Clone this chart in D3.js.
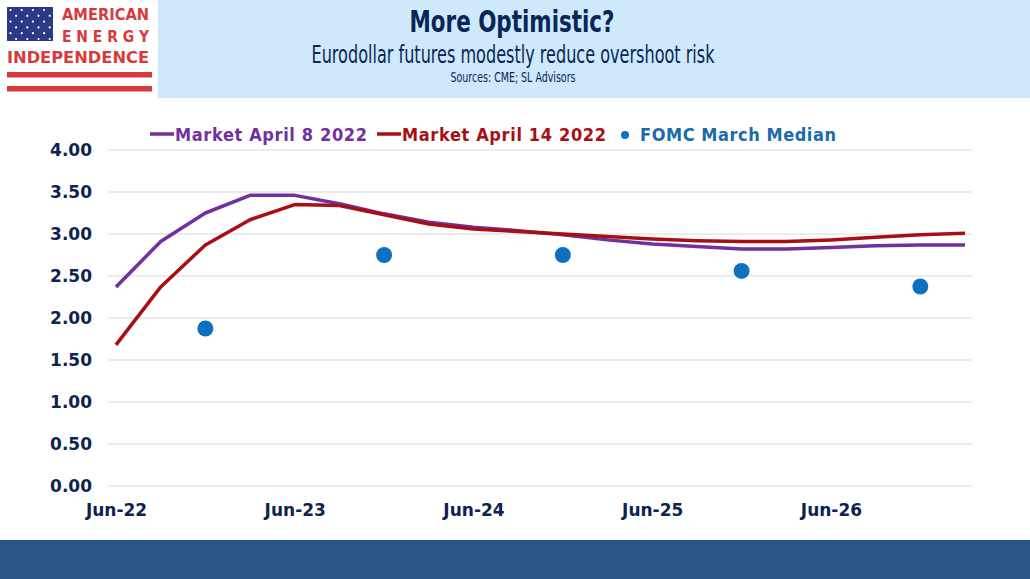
<!DOCTYPE html>
<html>
<head>
  <meta charset="utf-8"/>
  <style>
    body { margin: 0; background: #ffffff; }
    svg { display: block; }
  </style>
</head>
<body>
  <div id="chart"></div>
  <script src="https://d3js.org/d3.v7.min.js"></script>
  <script>
    // quarterly categories, Jun-22 .. Mar-27
    let quarters = ['Jun-22', 'Sep-22', 'Dec-22', 'Mar-23', 'Jun-23', 'Sep-23', 'Dec-23', 'Mar-24',
                    'Jun-24', 'Sep-24', 'Dec-24', 'Mar-25', 'Jun-25', 'Sep-25', 'Dec-25', 'Mar-26',
                    'Jun-26', 'Sep-26', 'Dec-26', 'Mar-27'];
    let tickLabels = ['Jun-22', 'Jun-23', 'Jun-24', 'Jun-25', 'Jun-26'];
    let yTicks = [0, 0.5, 1, 1.5, 2, 2.5, 3, 3.5, 4];

    let marketApr8 = [2.37, 2.91, 3.25, 3.46, 3.46, 3.36, 3.24, 3.14, 3.08, 3.04,
                      2.99, 2.93, 2.88, 2.85, 2.82, 2.82, 2.84, 2.86, 2.87, 2.87];
    let marketApr14 = [1.68, 2.37, 2.87, 3.17, 3.35, 3.34, 3.23, 3.12, 3.06, 3.03,
                       3.00, 2.97, 2.94, 2.92, 2.91, 2.91, 2.93, 2.96, 2.99, 3.01];
    let fomcQuarters = ['Dec-22', 'Dec-23', 'Dec-24', 'Dec-25', 'Dec-26'];
    let fomcMedian = [1.875, 2.75, 2.75, 2.56, 2.375];

    let width = 1030, height = 579;
    let navy = '#0e2350';

    let svg = d3.select('#chart')
        .append('svg')
        .attr('width', width)
        .attr('height', height);

    // header band
    svg.append('rect')
        .attr('x', 158).attr('y', 0)
        .attr('width', width - 158).attr('height', 98)
        .attr('fill', '#cde9fb');

    svg.append('text')
        .attr('x', 512).attr('y', 32)
        .attr('text-anchor', 'middle')
        .attr('font-family', 'DejaVu Sans Condensed, DejaVu Sans')
        .attr('font-weight', 'bold')
        .attr('font-size', 30)
        .attr('textLength', 205)
        .attr('lengthAdjust', 'spacingAndGlyphs')
        .attr('fill', '#0b2558')
        .text('More Optimistic?');

    svg.append('text')
        .attr('x', 513).attr('y', 63)
        .attr('text-anchor', 'middle')
        .attr('font-family', 'DejaVu Sans Condensed, DejaVu Sans')
        .attr('font-size', 25)
        .attr('textLength', 403)
        .attr('lengthAdjust', 'spacingAndGlyphs')
        .attr('fill', '#0b2558')
        .text('Eurodollar futures modestly reduce overshoot risk');

    svg.append('text')
        .attr('x', 513).attr('y', 82)
        .attr('text-anchor', 'middle')
        .attr('font-family', 'DejaVu Sans Condensed, DejaVu Sans')
        .attr('font-size', 13.5)
        .attr('textLength', 125)
        .attr('lengthAdjust', 'spacingAndGlyphs')
        .attr('fill', '#0b2558')
        .text('Sources: CME; SL Advisors');

    // logo
    let logo = svg.append('g');
    let logoRed = '#d63a3c';
    logo.append('rect')
        .attr('x', 7).attr('y', 7).attr('width', 46).attr('height', 34)
        .attr('fill', '#2b3a84');
    let starX = d3.range(8).map(function (i) { return 10.5 + i * 5.6; });
    let starY = d3.range(6).map(function (j) { return 10 + j * 5.8; });
    starY.forEach(function (sy, j) {
      starX.forEach(function (sx, i) {
        if ((i + j) % 2 === 0) {
          logo.append('circle').attr('cx', sx).attr('cy', sy).attr('r', 1.1).attr('fill', '#ffffff');
        }
      });
    });
    let logoText = function (label, xPos, yPos, len) {
      logo.append('text')
          .attr('x', xPos).attr('y', yPos)
          .attr('font-family', 'DejaVu Sans')
          .attr('font-weight', 'bold')
          .attr('font-size', 16)
          .attr('textLength', len)
          .attr('lengthAdjust', 'spacingAndGlyphs')
          .attr('fill', logoRed)
          .text(label);
    };
    logoText('AMERICAN', 62, 20, 87);
    logoText('E N E R G Y', 62, 42, 87);
    logoText('INDEPENDENCE', 7, 63, 142);
    logo.append('rect').attr('x', 7).attr('y', 72).attr('width', 145).attr('height', 5.5).attr('fill', logoRed);
    logo.append('rect').attr('x', 7).attr('y', 86).attr('width', 145).attr('height', 5.5).attr('fill', logoRed);

    // footer band
    svg.append('rect')
        .attr('x', 0).attr('y', 540)
        .attr('width', width).attr('height', height - 540)
        .attr('fill', '#2a5783');

    // scales
    let x = d3.scalePoint()
        .domain(quarters)
        .range([116, 965]);

    let y = d3.scaleLinear()
        .domain([0, 4])
        .range([486, 150]);

    // gridlines
    svg.append('g')
        .selectAll('line')
        .data(yTicks)
        .join('line')
        .attr('x1', 108).attr('x2', 972)
        .attr('y1', function (d) { return y(d); })
        .attr('y2', function (d) { return y(d); })
        .attr('stroke', '#d9d9d9')
        .attr('stroke-width', 1);

    // y axis
    let yAxis = svg.append('g')
        .attr('transform', 'translate(92,0)')
        .call(d3.axisLeft(y).tickValues(yTicks).tickFormat(d3.format('.2f')).tickSize(0).tickPadding(0));
    yAxis.select('.domain').remove();
    yAxis.selectAll('text')
        .attr('font-family', 'DejaVu Sans')
        .attr('font-weight', 'bold')
        .attr('font-size', 17)
        .attr('fill', navy);

    // x axis
    let xAxis = svg.append('g')
        .attr('transform', 'translate(0,' + 504 + ')')
        .call(d3.axisBottom(x).tickValues(tickLabels).tickSize(0).tickPadding(0));
    xAxis.select('.domain').remove();
    xAxis.selectAll('text')
        .attr('font-family', 'DejaVu Sans')
        .attr('font-weight', 'bold')
        .attr('font-size', 17)
        .attr('fill', navy);

    // lines
    let line = d3.line()
        .x(function (d, i) { return x(quarters[i]); })
        .y(function (d) { return y(d); });

    svg.append('path')
        .datum(marketApr8)
        .attr('d', line)
        .attr('fill', 'none')
        .attr('stroke', '#7030a0')
        .attr('stroke-width', 3.5)
        .attr('stroke-linejoin', 'round');

    svg.append('path')
        .datum(marketApr14)
        .attr('d', line)
        .attr('fill', 'none')
        .attr('stroke', '#a80f14')
        .attr('stroke-width', 3.5)
        .attr('stroke-linejoin', 'round');

    svg.append('g')
        .selectAll('circle')
        .data(fomcMedian)
        .join('circle')
        .attr('cx', function (d, i) { return x(fomcQuarters[i]); })
        .attr('cy', function (d) { return y(d); })
        .attr('r', 8)
        .attr('fill', '#0f6fc0');

    // legend
    let legend = svg.append('g')
        .attr('font-family', 'DejaVu Sans Condensed, DejaVu Sans')
        .attr('font-weight', 'bold')
        .attr('font-size', 18);

    legend.append('line')
        .attr('x1', 150).attr('x2', 174).attr('y1', 134).attr('y2', 134)
        .attr('stroke', '#7030a0').attr('stroke-width', 3.5);
    legend.append('text')
        .attr('x', 175).attr('y', 141)
        .attr('fill', '#7030a0')
        .attr('textLength', 192)
        .text('Market April 8 2022');

    legend.append('line')
        .attr('x1', 377).attr('x2', 401).attr('y1', 134).attr('y2', 134)
        .attr('stroke', '#a80f14').attr('stroke-width', 3.5);
    legend.append('text')
        .attr('x', 402).attr('y', 141)
        .attr('fill', '#a80f14')
        .attr('textLength', 204)
        .text('Market April 14 2022');

    legend.append('circle')
        .attr('cx', 625).attr('cy', 135).attr('r', 4)
        .attr('fill', '#0f6fc0');
    legend.append('text')
        .attr('x', 640).attr('y', 141)
        .attr('fill', '#1a6aac')
        .attr('textLength', 196)
        .text('FOMC March Median');
  </script>
</body>
</html>
